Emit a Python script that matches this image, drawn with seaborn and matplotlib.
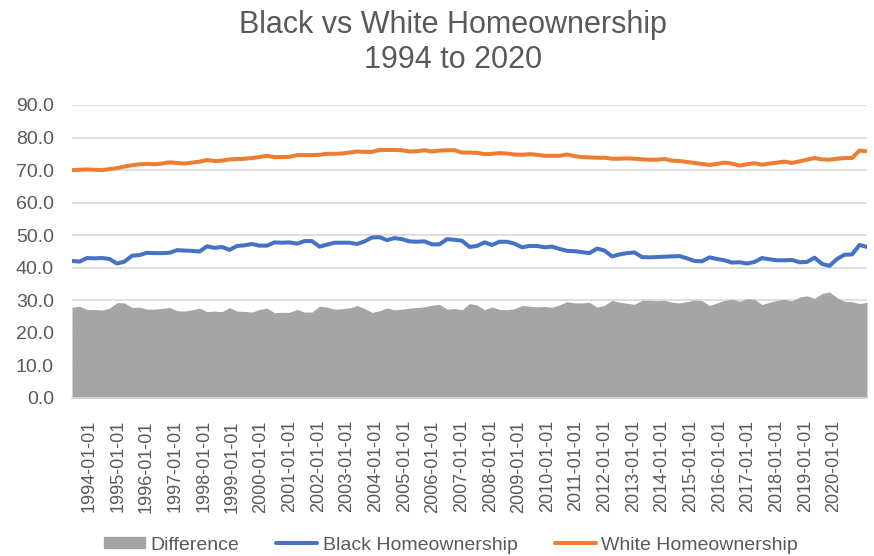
import pandas as pd
import numpy as np
import matplotlib
matplotlib.use("Agg")
import matplotlib.pyplot as plt
import seaborn as sns
from matplotlib.patches import Patch
from matplotlib.lines import Line2D

# quarterly homeownership rates, 1994Q1 .. 2020Q3
white = [70.0, 70.1, 70.2, 70.1, 70.0, 70.3, 70.6, 71.1, 71.5, 71.8,
         71.9, 71.8, 72.0, 72.4, 72.2, 72.0, 72.3, 72.6, 73.1, 72.8,
         72.9, 73.3, 73.4, 73.5, 73.7, 74.0, 74.4, 74.0, 74.0, 74.1,
         74.6, 74.6, 74.6, 74.7, 75.0, 75.0, 75.1, 75.4, 75.7, 75.6,
         75.6, 76.2, 76.2, 76.2, 76.1, 75.7, 75.8, 76.1, 75.7, 76.0,
         76.1, 76.1, 75.4, 75.4, 75.3, 74.9, 75.0, 75.2, 75.1, 74.8,
         74.7, 74.9, 74.7, 74.4, 74.4, 74.4, 74.8, 74.3, 74.0, 73.9,
         73.8, 73.8, 73.5, 73.5, 73.6, 73.5, 73.3, 73.2, 73.2, 73.4,
         72.9, 72.8, 72.5, 72.2, 71.9, 71.6, 71.9, 72.3, 72.0, 71.4,
         71.8, 72.1, 71.7, 72.0, 72.3, 72.6, 72.2, 72.7, 73.2, 73.7,
         73.3, 73.2, 73.5, 73.7, 73.7, 76.0, 75.8]

black = [42.1, 41.9, 43.0, 42.9, 43.0, 42.7, 41.3, 41.9, 43.7, 43.9,
         44.6, 44.5, 44.5, 44.6, 45.4, 45.3, 45.2, 45.0, 46.6, 46.1,
         46.4, 45.5, 46.7, 46.9, 47.3, 46.8, 46.8, 47.8, 47.7, 47.8,
         47.4, 48.2, 48.2, 46.5, 47.1, 47.7, 47.7, 47.7, 47.3, 48.1,
         49.3, 49.4, 48.5, 49.1, 48.8, 48.1, 48.0, 48.1, 47.2, 47.2,
         48.8, 48.6, 48.3, 46.4, 46.7, 47.8, 47.0, 48.0, 48.0, 47.4,
         46.3, 46.7, 46.7, 46.3, 46.5, 45.8, 45.2, 45.1, 44.8, 44.5,
         45.9, 45.3, 43.5, 44.1, 44.5, 44.7, 43.3, 43.2, 43.3, 43.4,
         43.5, 43.6, 42.9, 42.1, 42.0, 43.2, 42.7, 42.3, 41.6, 41.7,
         41.3, 41.8, 43.0, 42.6, 42.3, 42.3, 42.4, 41.7, 41.8, 43.1,
         41.2, 40.6, 42.7, 44.0, 44.1, 47.0, 46.4]

years = list(range(1994, 2021))
year_labels = [f"{y}-01-01" for y in years]

df = pd.DataFrame({"White Homeownership": white, "Black Homeownership": black})
df["Difference"] = df["White Homeownership"] - df["Black Homeownership"]
df["q"] = np.arange(len(df))

GRAY = "#A5A5A5"
BLUE = "#4472C4"
ORANGE = "#ED7D31"
TXT = "#595959"
GRID = "#D9D9D9"

sns.set_style("white")
plt.rcParams["font.family"] = ["Liberation Sans", "DejaVu Sans"]

fig = plt.figure(figsize=(8.74, 5.56), dpi=100)
ax = fig.add_axes([72 / 874, 158 / 556, 795 / 874, 293 / 556])

ax.fill_between(df["q"], 0, df["Difference"], color=GRAY, lw=0, zorder=2)
sns.lineplot(data=df, x="q", y="Black Homeownership", color=BLUE, lw=2.9, ax=ax, zorder=3)
sns.lineplot(data=df, x="q", y="White Homeownership", color=ORANGE, lw=2.9, ax=ax, zorder=3)

ax.set_xlim(0, len(df) - 1)
ax.set_ylim(0, 90)
ax.set_yticks(np.arange(0, 91, 10))
ax.set_yticklabels([f"{v:.1f}" for v in np.arange(0, 91, 10)])
ax.yaxis.grid(True, color=GRID, lw=1.2, zorder=0)
ax.set_axisbelow(True)
ax.set_xlabel("")
ax.set_ylabel("")

# tick marks every 4 quarters; the date labels run on a slightly tighter step
tick_pos = [4 * i for i in range(len(years))]
ax.set_xticks(tick_pos)
ax.set_xticklabels([])
ax.set_xticks([2.27 + 3.82 * i for i in range(len(years))], minor=True)
ax.set_xticklabels(year_labels, minor=True, rotation=90)
ax.tick_params(axis="x", which="major", length=5, width=1.2, color=GRID, direction="out")
ax.tick_params(axis="x", which="minor", length=0, pad=16, labelsize=13, labelcolor=TXT)
ax.tick_params(axis="y", length=0, labelsize=14, labelcolor=TXT, pad=13)

for s in ["top", "right", "left"]:
    ax.spines[s].set_visible(False)
ax.spines["bottom"].set_color(GRID)
ax.spines["bottom"].set_linewidth(1.2)
ax.spines["bottom"].set_zorder(4)

fig.text(0.518, 0.982, "Black vs White Homeownership\n1994 to 2020", ha="center", va="top",
         fontsize=22, color=TXT, linespacing=1.2)

handles = [Patch(color=GRAY, label="Difference"),
           Line2D([], [], color=BLUE, lw=2.9, label="Black Homeownership"),
           Line2D([], [], color=ORANGE, lw=2.9, label="White Homeownership")]
fig.legend(handles=handles, loc="lower center", bbox_to_anchor=(0.516, -0.027), ncol=3,
           frameon=False, fontsize=14, labelcolor=TXT, handlelength=2.1, handleheight=0.55,
           columnspacing=1.9, handletextpad=0.3)

fig.savefig("out.png", dpi=100)
